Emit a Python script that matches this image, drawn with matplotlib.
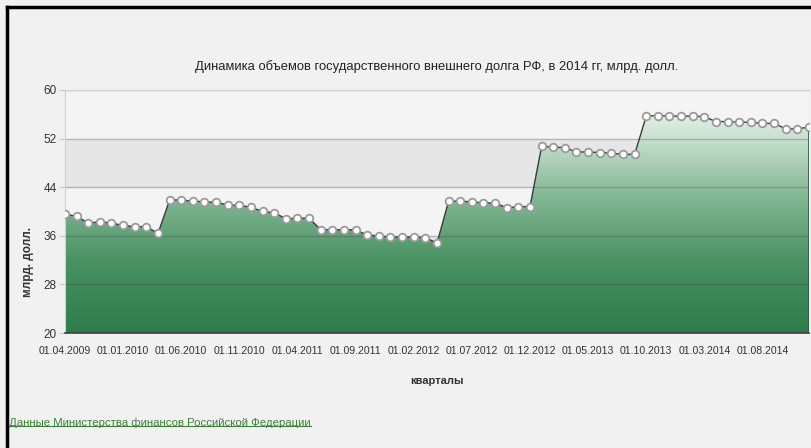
import matplotlib.pyplot as plt
import numpy as np
from matplotlib.colors import LinearSegmentedColormap
from matplotlib.lines import Line2D

# госдолг РФ, млрд. долл.
debt = [39.6, 39.2, 38.1, 38.3, 38.1, 37.7, 37.5, 37.5, 36.4,
        41.9, 41.9, 41.7, 41.6, 41.5, 41.1, 41.0, 40.7, 40.0, 39.8,
        38.8, 38.9, 38.9, 37.0, 37.0, 37.0, 37.0, 36.1, 36.0, 35.8,
        35.8, 35.8, 35.7, 34.8, 41.7, 41.7, 41.6, 41.4, 41.4, 40.6,
        40.8, 40.8, 50.7, 50.6, 50.5, 49.8, 49.8, 49.7, 49.6, 49.4,
        49.4, 55.7, 55.8, 55.7, 55.7, 55.7, 55.6, 54.8, 54.8, 54.7,
        54.7, 54.5, 54.5, 53.6, 53.6, 53.9]
tick_labels = ['01.04.2009', '01.01.2010', '01.06.2010', '01.11.2010', '01.04.2011',
               '01.09.2011', '01.02.2012', '01.07.2012', '01.12.2012', '01.05.2013',
               '01.10.2013', '01.03.2014', '01.08.2014']
yticks = [20, 28, 36, 44, 52, 60]

plt.rcParams['font.family'] = ['Liberation Sans', 'DejaVu Sans']

x = np.arange(len(debt))
ymin, ymax = 20, 60

fig = plt.figure(figsize=(8.12, 4.48), dpi=100)
fig.patch.set_facecolor('#f1f1f1')
ax = fig.add_axes([65/812, 1-333/448, 744/812, 243/448])
ax.set_facecolor('#f4f4f4')
ax.axhspan(44, 52, color='#e6e6e6', zorder=0)
ax.axhspan(28, 36, color='#e6e6e6', zorder=0)

# заливка градиентом
cmap = LinearSegmentedColormap.from_list('g', [(0, '#2e7b4b'), (0.3, '#4a9263'),
                                              (0.6, '#8dbd9d'), (0.85, '#d6e8db'),
                                              (1, '#f3f7f4')])
grad = np.linspace(0, 1, 256).reshape(-1, 1)
poly = ax.fill_between(x, ymin, debt, color='none', lw=0)
img = ax.imshow(grad, cmap=cmap, origin='lower', aspect='auto',
                extent=[x[0], x[-1], ymin, ymax], zorder=1)
img.set_clip_path(poly.get_paths()[0], transform=ax.transData)

for v in yticks[1:]:
    ax.axhline(v, color='#444444', alpha=0.3, lw=1, zorder=2)

ax.plot([x[-1], x[-1]], [ymin, debt[-1]], color='#2b5a3a', lw=1.2, zorder=3)
ax.plot(x, debt, color='#3c3c3c', lw=1, zorder=4,
        marker='o', markersize=5.5, markerfacecolor='white',
        markeredgecolor='#9a9a9a', markeredgewidth=1.3)

ax.set_xlim(x[0], x[-1])
ax.set_ylim(ymin, ymax)
ax.set_xticks(x[::5][:len(tick_labels)])
ax.set_xticklabels(tick_labels)
ax.set_yticks(yticks)
ax.tick_params(axis='x', length=0, labelsize=7.6, colors='#333333', pad=9)
ax.tick_params(axis='y', length=4, color='#c8c8c8', labelsize=8.5, colors='#333333', pad=2)
for s in ['top', 'left']:
    ax.spines[s].set_color('#d0d0d0')
ax.spines['right'].set_visible(False)
ax.spines['bottom'].set_color('#404040')
ax.spines['bottom'].set_linewidth(1.2)
ax.spines['bottom'].set_zorder(5)

fig.text(437/812, 1-67/448, 'Динамика объемов государственного внешнего долга РФ, в 2014 гг, млрд. долл.',
         ha='center', va='center', fontsize=9.4, color='#222222')
fig.text(437/812, 1-381/448, 'кварталы', ha='center', va='center',
         fontsize=8, fontweight='bold', color='#333333')
fig.text(28/812, 1-262/448, 'млрд. долл.', ha='center', va='center', rotation=90,
         fontsize=8.5, fontweight='bold', color='#333333')

src = fig.text(9/812, 1-423/448, 'Данные Министерства финансов Российской Федерации',
               ha='left', va='center', fontsize=8.2, color='#3f7f3a')
fig.canvas.draw()
bb = src.get_window_extent().transformed(fig.transFigure.inverted())
fig.add_artist(Line2D([bb.x0, bb.x1], [bb.y0 + 0.005, bb.y0 + 0.005],
                      transform=fig.transFigure, color='#3f7f3a', lw=0.8))

# черная рамка сверху и слева
fig.add_artist(Line2D([7/812, 7/812], [0, 1-7/448], transform=fig.transFigure,
                      color='black', lw=2.5))
fig.add_artist(Line2D([7/812, 1], [1-7/448, 1-7/448], transform=fig.transFigure,
                      color='black', lw=2.5))

fig.savefig('out.png', dpi=100, facecolor=fig.get_facecolor())
